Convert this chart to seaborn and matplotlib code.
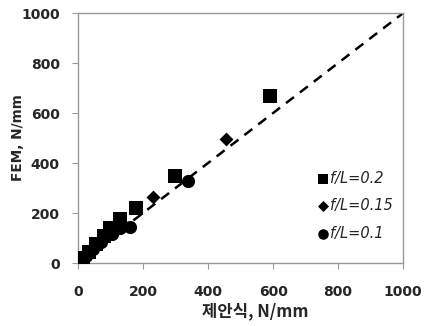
import matplotlib
matplotlib.use("Agg")
import matplotlib.pyplot as plt
import seaborn as sns
import pandas as pd

sns.set_style("white")
plt.rcParams['font.family'] = ['Noto Sans CJK KR', 'DejaVu Sans']

sq_x = [590, 300, 180, 128, 100, 80, 55, 35, 15]
sq_y = [670, 348, 222, 178, 140, 110, 75, 45, 20]
di_x = [455, 230, 115, 90, 60, 40, 20]
di_y = [495, 265, 135, 110, 80, 50, 25]
ci_x = [340, 160, 130, 105, 70, 45, 25, 10]
ci_y = [328, 146, 140, 115, 85, 55, 30, 15]
labels = ["f/L=0.2", "f/L=0.15", "f/L=0.1"]
ticks = [0, 200, 400, 600, 800, 1000]

df = pd.DataFrame({
    "x": sq_x + di_x + ci_x,
    "y": sq_y + di_y + ci_y,
    "g": [labels[0]] * len(sq_x) + [labels[1]] * len(di_x) + [labels[2]] * len(ci_x),
})

fig = plt.figure(figsize=(4.28, 3.26), dpi=100)
ax = fig.add_axes([0.182, 0.193, 0.760, 0.767])

ax.plot([0, 1000], [0, 1000], color="black", lw=1.8, ls=(0, (4, 3)), zorder=1)
markers = {labels[0]: "s", labels[1]: "D", labels[2]: "o"}
sizes = {labels[0]: 90, labels[1]: 50, labels[2]: 90}
for lab in labels:
    sub = df[df.g == lab]
    sns.scatterplot(data=sub, x="x", y="y", marker=markers[lab], s=sizes[lab],
                    color="black", edgecolor="black", linewidth=0, ax=ax,
                    label=lab, zorder=3)

ax.set_xlim(0, 1000)
ax.set_ylim(0, 1000)
ax.set_xticks(ticks)
ax.set_yticks(ticks)
ax.set_xticklabels([str(t) for t in ticks], fontweight="bold", fontsize=10,
                   family=["DejaVu Sans"])
ax.set_yticklabels([str(t) for t in ticks], fontweight="bold", fontsize=10,
                   family=["DejaVu Sans"])
ax.tick_params(axis="both", direction="out", length=4, width=0.8, color="#999999",
               bottom=True, left=True)
ax.tick_params(axis="x", pad=12)
ax.tick_params(axis="y", pad=9)
for s in ax.spines.values():
    s.set_color("#999999")
    s.set_linewidth(1.0)

ax.set_xlabel("제안식, N/mm", fontweight="bold", fontsize=12)
ax.xaxis.set_label_coords(0.545, -0.157)
ax.set_ylabel("FEM, N/mm", fontweight="bold", fontsize=9.8,
              family=["DejaVu Sans"])
ax.yaxis.set_label_coords(-0.162, 0.5)

leg = ax.legend(loc="lower right", bbox_to_anchor=(0.995, 0.055), frameon=False,
                handletextpad=-0.5, labelspacing=0.85, fontsize=10.5,
                markerscale=0.8, borderaxespad=0.2)
for t in leg.get_texts():
    t.set_fontstyle("italic")
    t.set_family(["DejaVu Sans"])

fig.savefig("out.png", dpi=100)
